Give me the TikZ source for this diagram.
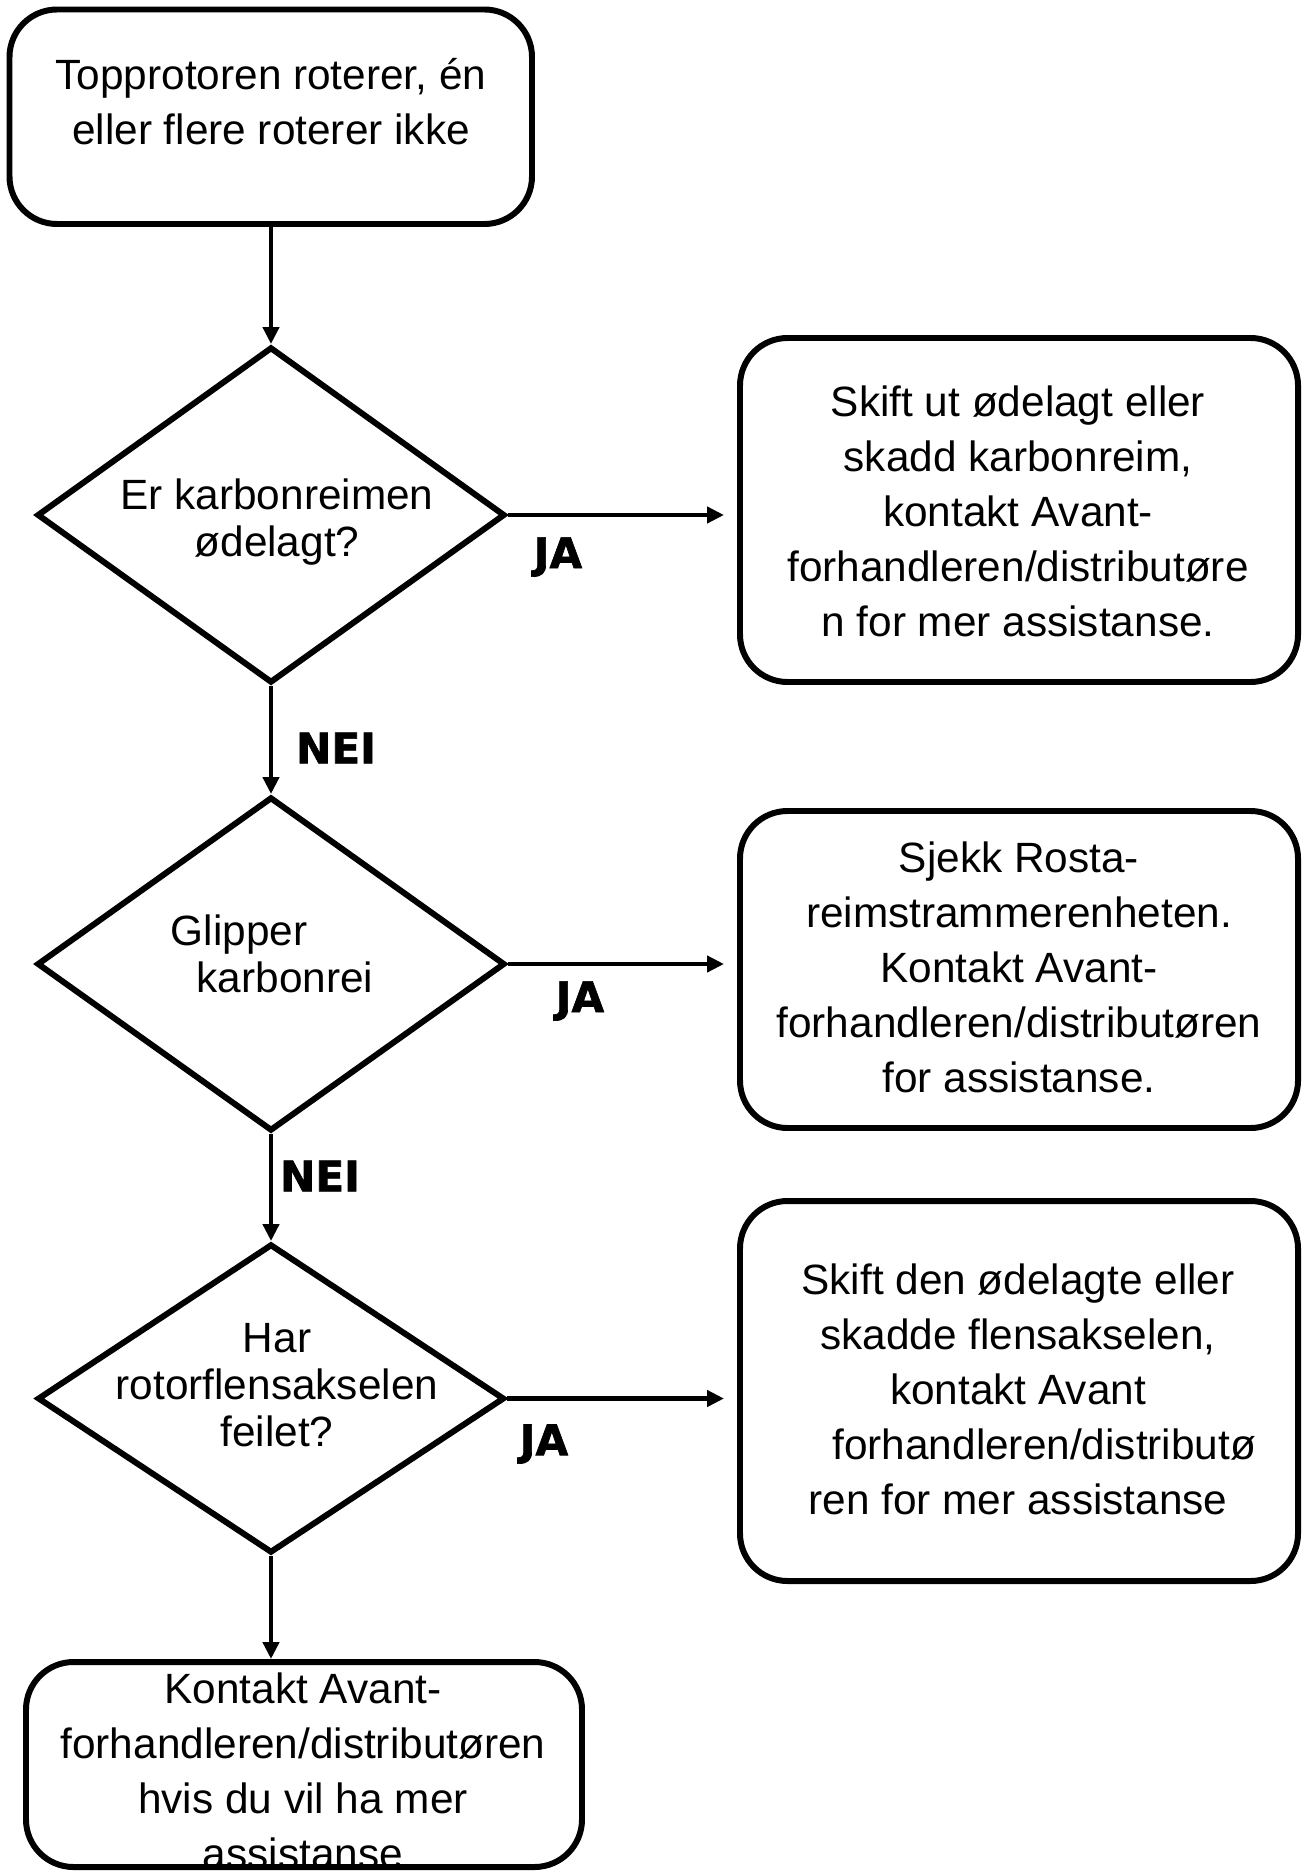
\documentclass[tikz,border=0pt]{standalone}
\usepackage{fontspec}
\setmainfont{Liberation Sans}
\newfontfamily\answerfont[FakeBold=1.6]{DejaVu Sans Bold}
\usetikzlibrary{arrows.meta,positioning,calc,shapes.geometric}

\begin{document}
\begin{tikzpicture}[
  box/.style={draw, line width=3.4pt, rounded corners=0.95cm, inner sep=0pt},
  decision/.style={draw, diamond, line width=3.4pt, inner sep=0pt, minimum width=9.36cm},
  boxtext/.style={align=center, inner sep=0pt, font=\fontsize{24.1}{31.3}\selectfont},
  asktext/.style={boxtext, font=\fontsize{24.1}{26.9}\selectfont},
  answer/.style={font=\answerfont\fontsize{24}{28}\selectfont, inner sep=0pt},
  flow/.style={-{Triangle[length=0.34cm, width=0.32cm]}, line width=2.6pt}
]
\useasboundingbox (0,0) rectangle (26.08,-37.42);

% start
\node[box, minimum width=10.45cm, minimum height=4.29cm] (start) at (5.415,-2.335) {};
\node[boxtext] (starttxt) at (5.42,-2.03) {Topprotoren roterer, én\\eller flere roterer ikke};

% decisions
\node[decision, minimum height=6.72cm] (belt) at (5.42,-10.30) {};
\node[asktext] (belttxt) at (5.54,-10.44) {Er karbonreimen\\ødelagt?};
\node[decision, minimum height=6.68cm] (slip) at (5.42,-19.28) {};
\node[asktext, align=left] (sliptxt) at (5.44,-19.08) {Glipper\\\hspace*{0.52cm}karbonrei};
\node[decision, minimum width=9.34cm, minimum height=6.18cm] (shaft) at (5.42,-27.97) {};
\node[asktext] (shafttxt) at (5.54,-27.7) {Har\\rotorflensakselen\\feilet?};

% actions
\node[box, minimum width=11.16cm, minimum height=6.88cm] (fixbelt) at (20.38,-10.2) {};
\node[boxtext] (fixbelttxt) at (20.36,-10.22)
  {Skift ut ødelagt eller\\skadd karbonreim,\\kontakt Avant-\\forhandleren/distributøre\\n for mer assistanse.};
\node[box, minimum width=11.16cm, minimum height=6.34cm] (tension) at (20.38,-19.39) {};
\node[boxtext] (tensiontxt) at (20.38,-19.34)
  {Sjekk Rosta-\\reimstrammerenheten.\\Kontakt Avant-\\forhandleren/distributøren\\for assistanse.};
\node[box, minimum width=11.16cm, minimum height=7.6cm] (fixshaft) at (20.38,-27.82) {};
\node[boxtext] (fixshafttxt) at (20.36,-27.78)
  {Skift den ødelagte eller\\skadde flensakselen,\\kontakt Avant\\\hspace*{1.05cm}forhandleren/distributø\\ren for mer assistanse};
\node[box, minimum width=11.12cm, minimum height=4.1cm] (dealer) at (6.08,-35.29) {};
\node[boxtext] (dealertxt) at (6.06,-35.42)
  {Kontakt Avant-\\forhandleren/distributøren\\hvis du vil ha mer\\assistanse};

% connectors
\draw[flow] (belt.north |- start.south) -- (belt.north);
\draw[flow] (belt.south) -- (slip.north);
\draw[flow] (slip.south) -- (shaft.north);
\draw[flow] (shaft.south) -- (shaft.south |- dealer.north);
\draw[flow, shorten >=0.26cm] (belt.east) -- (belt.east -| fixbelt.west);
\draw[flow, shorten >=0.26cm] (slip.east) -- (slip.east -| tension.west);
\draw[flow, shorten >=0.26cm] (shaft.east) -- (shaft.east -| fixshaft.west);

\node[answer] (ja1) at (11.16,-11.14) {JA};
\node[answer] (ja2) at (11.6,-20.02) {JA};
\node[answer] (ja3) at (10.88,-28.88) {JA};
\node[answer] (nei1) at (6.72,-14.96) {NEI};
\node[answer] (nei2) at (6.4,-23.52) {NEI};

\end{tikzpicture}
\end{document}
